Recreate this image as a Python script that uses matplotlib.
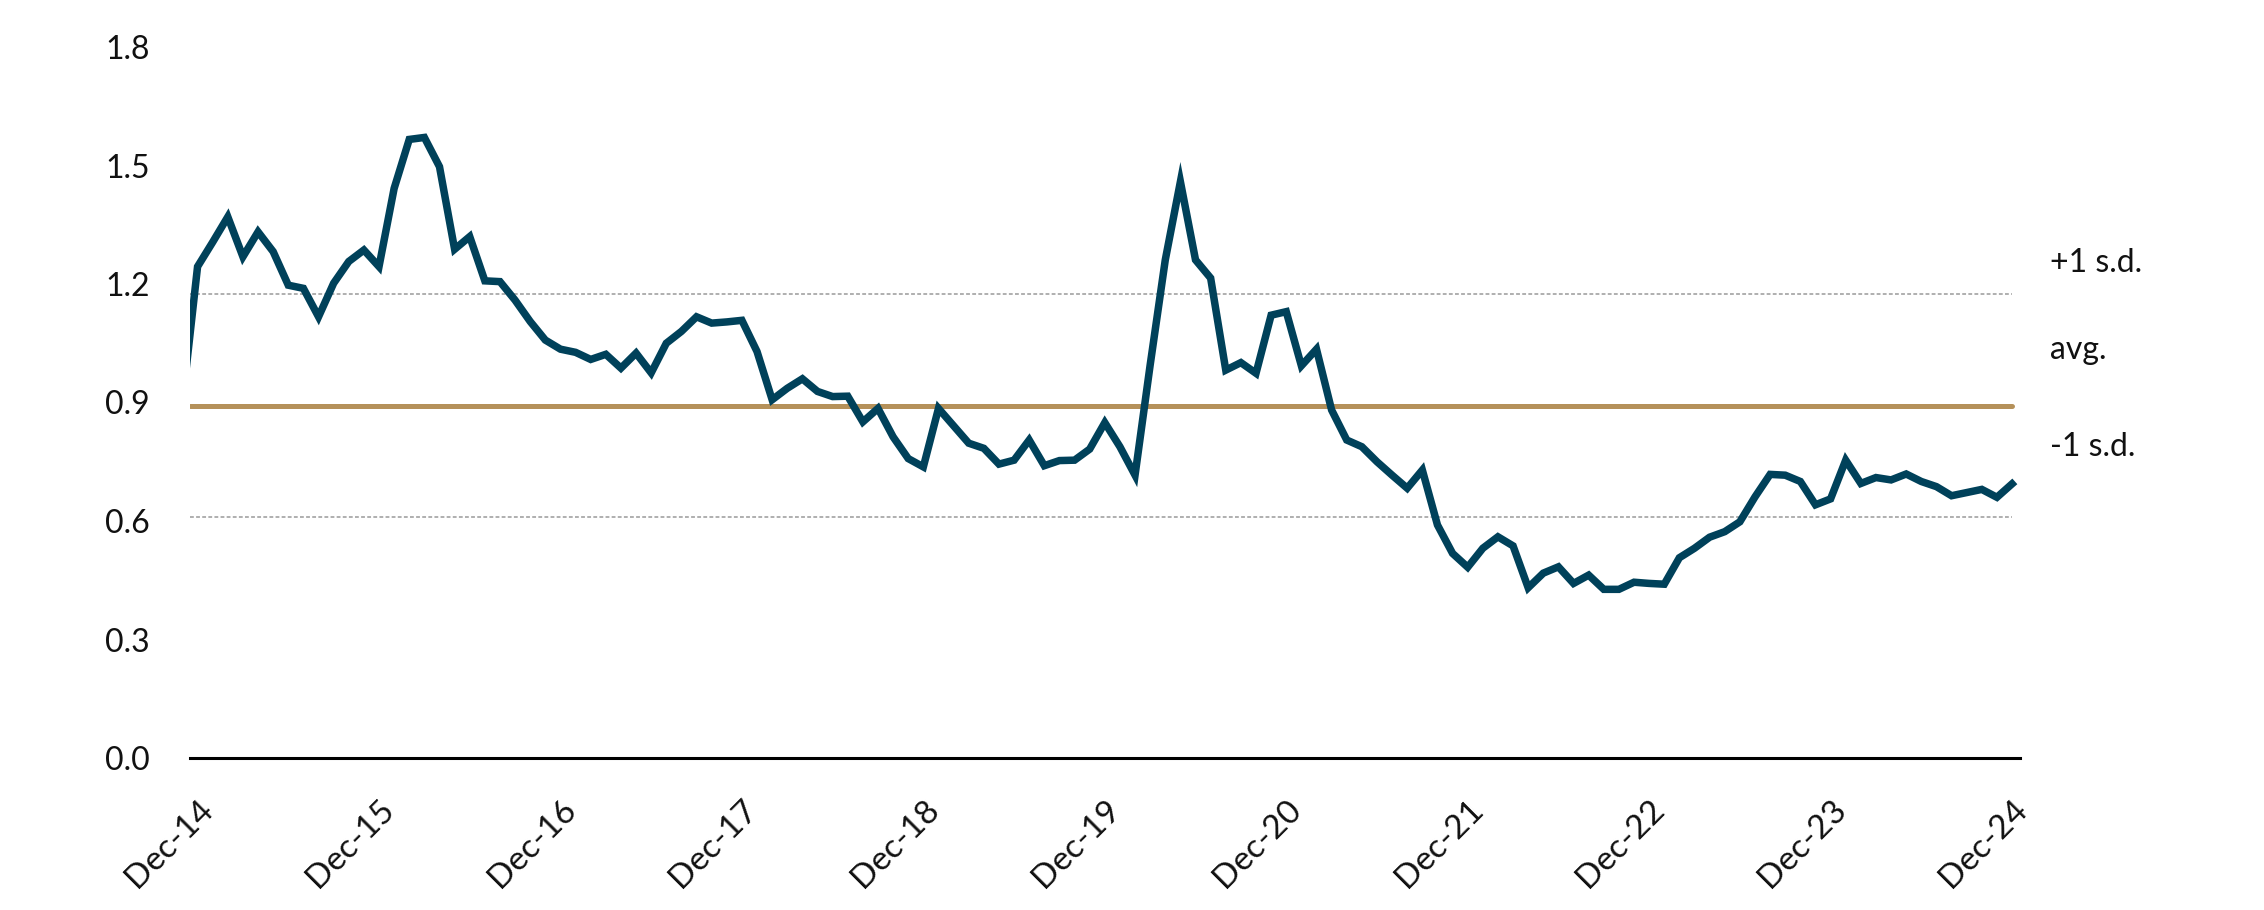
import matplotlib
matplotlib.use("Agg")
import matplotlib.pyplot as plt
import numpy as np

plt.rcParams['font.family'] = ['Lato', 'DejaVu Sans']

# Monthly series (Nov-14 is only partly visible at the left edge), Dec-14 .. Dec-24
values = [0.90,
    1.244, 1.306, 1.370, 1.269, 1.332, 1.282, 1.197, 1.189, 1.117, 1.202, 1.257, 1.286,
    1.244, 1.442, 1.566, 1.571, 1.497, 1.288, 1.320, 1.208, 1.206, 1.159, 1.105, 1.058,
    1.035, 1.027, 1.009, 1.022, 0.987, 1.025, 0.975, 1.050, 1.080, 1.117, 1.101, 1.104,
    1.108, 1.029, 0.907, 0.936, 0.960, 0.928, 0.915, 0.916, 0.851, 0.885, 0.813, 0.758,
    0.737, 0.885, 0.841, 0.797, 0.784, 0.744, 0.754, 0.805, 0.740, 0.753, 0.754, 0.782,
    0.849, 0.788, 0.716, 0.995, 1.261, 1.459, 1.261, 1.215, 0.982, 1.001, 0.974, 1.121,
    1.130, 0.993, 1.035, 0.881, 0.805, 0.788, 0.750, 0.716, 0.683, 0.729, 0.590, 0.518,
    0.483, 0.531, 0.560, 0.537, 0.431, 0.468, 0.484, 0.442, 0.463, 0.427, 0.427, 0.445,
    0.442, 0.440, 0.507, 0.531, 0.559, 0.573, 0.598, 0.661, 0.718, 0.716, 0.700, 0.641,
    0.656, 0.754, 0.695, 0.710, 0.704, 0.719, 0.700, 0.687, 0.664, 0.672, 0.680, 0.660,
    0.694]
avg = 0.892
sd_plus = 1.174
sd_minus = 0.609
tick_labels = ['Dec-14', 'Dec-15', 'Dec-16', 'Dec-17', 'Dec-18', 'Dec-19',
               'Dec-20', 'Dec-21', 'Dec-22', 'Dec-23', 'Dec-24']
y_ticks = [0.0, 0.3, 0.6, 0.9, 1.2, 1.5, 1.8]
band_labels = ['+1 s.d.', 'avg.', '-1 s.d.']

x = np.arange(len(values)) - 1
n_last = x[-1]

fig = plt.figure(figsize=(22.64, 9.10), dpi=100)
ax = fig.add_axes([190/2264, 1-758/910, (2019.6-190)/2264, (758-47)/910])

line_col = '#00415A'
gold = '#B5915A'
grey = '#9A9A9A'
text_col = '#111111'

ax.plot([-0.5, n_last], [sd_plus, sd_plus], color=grey, lw=1.1, ls=(0, (2.5, 1.5)), zorder=1)
ax.plot([-0.5, n_last], [sd_minus, sd_minus], color=grey, lw=1.1, ls=(0, (2.5, 1.5)), zorder=1)
ax.plot([-0.5, n_last], [avg, avg], color=gold, lw=3.6, solid_capstyle='round', zorder=2)
ax.plot(x, values, color=line_col, lw=5.4, solid_joinstyle='miter', zorder=3)

ax.set_xlim(-0.5, n_last + 0.5)
ax.set_ylim(0, 1.8)
ax.set_yticks(y_ticks)
ax.set_yticklabels([f'{v:.1f}' for v in y_ticks])
ax.set_xticks(np.arange(0, 121, 12))
ax.set_xticklabels(tick_labels, rotation=45, ha='right', va='top', rotation_mode='anchor')

for s in ['top', 'right', 'left']:
    ax.spines[s].set_visible(False)
ax.spines['bottom'].set_color('black')
ax.spines['bottom'].set_linewidth(2.2)
ax.tick_params(axis='both', length=0, labelsize=23, colors=text_col)
ax.tick_params(axis='y', pad=29)
ax.tick_params(axis='x', pad=26)
for lab in ax.get_xticklabels():
    lab.set_fontsize(24)

band_y = [1.253, 1.033, 0.787]
for txt, yy in zip(band_labels, band_y):
    ax.text(122.5, yy, txt, fontsize=23, color=text_col,
            ha='left', va='center', clip_on=False)

fig.savefig('out.png', dpi=100)
